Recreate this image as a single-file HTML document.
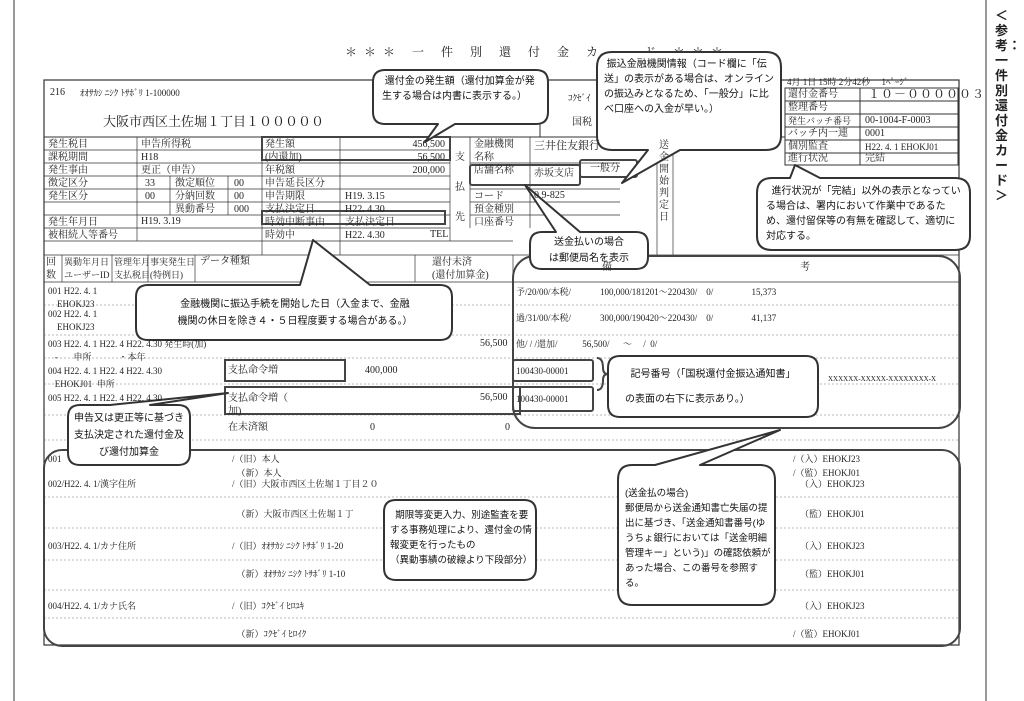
<!DOCTYPE html>
<html><head><meta charset="utf-8"><style>
body{margin:0;width:1024px;height:701px;background:#fff;position:relative;overflow:hidden;font-family:"Liberation Serif","Noto Serif CJK SC","Noto Sans CJK JP",serif;color:#222}
.t{position:absolute;white-space:nowrap;font-size:10px;line-height:12px}
.s{font-size:9px}
.c{font-family:"Liberation Sans","Noto Sans CJK JP",sans-serif;font-size:10px;line-height:15px;color:#111}
svg{position:absolute;left:0;top:0}
</style></head><body>
<div class="t" style="left:345px;top:46px;font-size:12px;letter-spacing:7px">＊＊＊ 一 件 別 還 付 金 カ ー ド ＊＊＊</div>
<svg width="1024" height="701">
<g stroke="#333" fill="none" stroke-width="1">
<line x1="14" y1="0" x2="14" y2="701"/><line x1="986" y1="0" x2="986" y2="701"/>
<rect x="44" y="80" width="915" height="565" stroke-width="1.2"/>
<line x1="44" y1="137" x2="785" y2="137"/>
<rect x="785" y="88" width="173" height="77"/>
<line x1="785" y1="101" x2="958" y2="101"/><line x1="785" y1="114" x2="958" y2="114"/><line x1="785" y1="127" x2="958" y2="127"/><line x1="785" y1="140" x2="958" y2="140"/><line x1="785" y1="153" x2="958" y2="153"/>
<line x1="860" y1="88" x2="860" y2="165"/>
<line x1="540" y1="80" x2="540" y2="137"/>
<g stroke-width="0.7">
<line x1="44" y1="150" x2="450" y2="150"/><line x1="44" y1="163" x2="450" y2="163"/><line x1="44" y1="176" x2="450" y2="176"/><line x1="44" y1="189" x2="450" y2="189"/><line x1="44" y1="202" x2="450" y2="202"/><line x1="44" y1="215" x2="450" y2="215"/><line x1="44" y1="228" x2="450" y2="228"/><line x1="44" y1="241" x2="513" y2="241"/>
<line x1="137" y1="137" x2="137" y2="241"/><line x1="262" y1="137" x2="262" y2="255"/><line x1="340" y1="137" x2="340" y2="255"/>
<line x1="170" y1="176" x2="170" y2="215"/><line x1="228" y1="176" x2="228" y2="215"/><line x1="450" y1="137" x2="450" y2="241"/>
<line x1="470" y1="137" x2="470" y2="228"/><line x1="530" y1="137" x2="530" y2="228"/><line x1="470" y1="163" x2="620" y2="163"/><line x1="470" y1="189" x2="620" y2="189"/><line x1="470" y1="202" x2="620" y2="202"/><line x1="470" y1="215" x2="620" y2="215"/>
<line x1="657" y1="137" x2="657" y2="255"/><line x1="673" y1="137" x2="673" y2="255"/>
<line x1="44" y1="255" x2="959" y2="255"/><line x1="44" y1="282" x2="959" y2="282"/>
<line x1="62" y1="255" x2="62" y2="282"/><line x1="112" y1="255" x2="112" y2="282"/><line x1="148" y1="255" x2="148" y2="282"/><line x1="195" y1="255" x2="195" y2="282"/><line x1="330" y1="255" x2="330" y2="282"/><line x1="415" y1="255" x2="415" y2="282"/><line x1="513" y1="255" x2="513" y2="282"/>
</g>
<g stroke-dasharray="2,2" stroke-width="0.6" stroke="#777">
<line x1="44" y1="305" x2="959" y2="305"/><line x1="44" y1="335" x2="959" y2="335"/><line x1="44" y1="358" x2="959" y2="358"/><line x1="44" y1="384" x2="959" y2="384"/><line x1="44" y1="415" x2="959" y2="415"/><line x1="44" y1="440" x2="959" y2="440"/>
<line x1="44" y1="497" x2="959" y2="497"/><line x1="44" y1="528" x2="959" y2="528"/><line x1="44" y1="560" x2="959" y2="560"/><line x1="44" y1="590" x2="959" y2="590"/><line x1="44" y1="618" x2="959" y2="618"/>
</g>
</g>
<g stroke="#444" fill="none" stroke-width="2">
<rect x="262" y="137" width="188" height="23"/>
<rect x="262" y="211" width="183" height="13"/>
<rect x="470" y="165" width="110" height="20" rx="2"/>
<rect x="580" y="160" width="57" height="17" rx="2"/>
<rect x="225" y="360" width="120" height="21"/>
<rect x="225" y="387" width="295" height="27"/>
<rect x="513" y="360" width="80" height="21" rx="2"/>
<rect x="513" y="387" width="80" height="24" rx="2"/>
<path d="M597 358 q6 0 6 10 q0 6 5 6 q-5 0 -5 6 q0 10 -6 10" />
<rect x="513" y="256" width="447" height="172" rx="22"/>
<rect x="44" y="450" width="916" height="196" rx="18"/>
</g>
<g stroke="#333" fill="#fff" stroke-width="2" stroke-linejoin="round">
<path d="M385 70 H536 Q548 70 548 82 V112 Q548 124 536 124 H455 L425 142 L438 124 H385 Q373 124 373 112 V82 Q373 70 385 70Z"/>
<path d="M612 52 H766 Q781 52 781 67 V136 Q781 150 766 150 H680 L622 183 L648 150 H612 Q597 150 597 136 V67 Q597 52 612 52Z"/>
<path d="M772 178 H790 L795 165 L820 178 H955 Q970 178 970 193 V236 Q970 250 955 250 H772 Q757 250 757 236 V193 Q757 178 772 178Z"/>
<path d="M542 232 H556 L525 185 L580 232 H636 Q648 232 648 244 V257 Q648 269 636 269 H542 Q530 269 530 257 V244 Q530 232 542 232Z"/>
<path d="M148 285 H300 L313 240 L370 285 H440 Q452 285 452 297 V328 Q452 340 440 340 H148 Q136 340 136 328 V297 Q136 285 148 285Z"/>
<path d="M80 405 H110 L228 393 L150 405 H178 Q190 405 190 417 V453 Q190 465 178 465 H80 Q68 465 68 453 V417 Q68 405 80 405Z"/>
<path d="M396 500 H524 Q536 500 536 512 V568 Q536 580 524 580 H396 Q384 580 384 568 V512 Q384 500 396 500Z"/>
<path d="M632 465 H655 L780 430 L700 465 H760 Q775 465 775 480 V590 Q775 605 760 605 H632 Q618 605 618 590 V480 Q618 465 632 465Z"/>
<path d="M620 356 H806 Q818 356 818 368 V405 Q818 417 806 417 H620 Q608 417 608 405 V368 Q608 356 620 356Z"/>
</g>
</svg>
<div class="t" style="left:995px;top:8px;width:14px;font-size:13px;line-height:15px;white-space:normal;font-family:'Liberation Sans','Noto Sans CJK JP',sans-serif;font-weight:bold">＜参考：一件別還付金カード＞</div>
<div class="t" style="left:50px;top:87px">216</div><div class="t s" style="left:80px;top:87px">ｵｵｻｶｼ ﾆｼｸ ﾄｻﾎﾞﾘ 1-100000</div>
<div class="t" style="left:103px;top:114px;font-size:13px;line-height:15px">大阪市西区土佐堀１丁目１０００００</div>
<div class="t s" style="left:568px;top:92px">ｺｸｾﾞｲ</div><div class="t" style="left:572px;top:117px">国税</div>
<div class="t s" style="left:787px;top:76px">4月 1日 15時 2分42秒　 1ﾍﾟｰｼﾞ</div>
<div class="t" style="left:788px;top:89px">還付金番号</div><div class="t" style="left:868px;top:88px;font-size:12px;letter-spacing:1px">１０－０００００３</div>
<div class="t" style="left:788px;top:102px">整理番号</div>
<div class="t s" style="left:788px;top:115px">発生バッチ番号</div><div class="t" style="left:865px;top:115px">00-1004-F-0003</div>
<div class="t" style="left:788px;top:128px">バッチ内一連</div><div class="t" style="left:865px;top:128px">0001</div>
<div class="t" style="left:788px;top:141px">個別監査</div><div class="t s" style="left:865px;top:141px">H22. 4. 1 EHOKJ01</div>
<div class="t" style="left:788px;top:153px">進行状況</div><div class="t" style="left:865px;top:153px">完結</div>
<div class="t" style="left:48px;top:138px;line-height:13px">発生税目<br>課税期間<br>発生事由<br>徴定区分<br>発生区分<br>&nbsp;<br>発生年月日<br>被相続人等番号</div>
<div class="t" style="left:141px;top:138px;line-height:13px">申告所得税<br>H18<br>更正（申告）</div>
<div class="t" style="left:145px;top:177px;line-height:13px">33<br>00</div>
<div class="t" style="left:175px;top:177px;line-height:13px">徴定順位<br>分納回数<br>異動番号</div>
<div class="t" style="left:234px;top:177px;line-height:13px">00<br>00<br>000</div>
<div class="t" style="left:141px;top:216px">H19. 3.19</div>
<div class="t" style="left:265px;top:138px;line-height:13px">発生額<br>(内還加)<br>年税額<br>申告延長区分<br>申告期限<br>支払決定日<br>時効中断事由<br>時効中</div>
<div class="t" style="left:395px;top:138px;line-height:13px;text-align:right;width:50px">456,500<br>56,500<br>200,000</div>
<div class="t" style="left:345px;top:190px;line-height:13px">H19. 3.15<br>H22. 4.30<br>支払決定日<br>H22. 4.30</div>
<div class="t" style="left:430px;top:229px">TEL</div>
<div class="t" style="left:455px;top:143px;line-height:30px;width:10px;white-space:normal">支払先</div>
<div class="t" style="left:474px;top:138px;line-height:13px">金融機関<br>名称<br>店舗名称<br>&nbsp;<br>コード<br>預金種別<br>口座番号</div>
<div class="t" style="left:534px;top:140px;font-size:11px">三井住友銀行</div>
<div class="t" style="left:534px;top:168px">赤坂支店</div>
<div class="t" style="left:534px;top:190px">0 9-825</div><div class="t" style="left:590px;top:163px">一般分</div>
<div class="t" style="left:659px;top:140px;width:12px;white-space:normal;line-height:12px">送金開始判定日</div>
<div class="t" style="left:46px;top:256px;line-height:13px">回<br>数</div>
<div class="t s" style="left:64px;top:256px;line-height:13px">異動年月日<br>ユーザーID</div>
<div class="t s" style="left:114px;top:256px;line-height:13px">管理年月<br>支払税目</div>
<div class="t s" style="left:150px;top:256px;line-height:13px">事実発生日<br>(特例日)</div>
<div class="t" style="left:200px;top:256px">データ種類</div>
<div class="t" style="left:432px;top:256px;line-height:13px">還付未済<br>(還付加算金)</div>
<div class="t" style="left:602px;top:262px">備</div><div class="t" style="left:800px;top:262px">考</div>
<div class="t s" style="left:48px;top:285px;line-height:13px">001 H22. 4. 1<br>&nbsp;&nbsp;&nbsp;&nbsp;EHOKJ23</div>
<div class="t s" style="left:48px;top:308px;line-height:13px">002 H22. 4. 1<br>&nbsp;&nbsp;&nbsp;&nbsp;EHOKJ23</div>
<div class="t s" style="left:48px;top:338px;line-height:13px">003 H22. 4. 1 H22. 4 H22. 4.30 発生時(加)<br>&nbsp;&nbsp;&nbsp;-&nbsp;&nbsp;&nbsp;&nbsp;&nbsp;&nbsp;&nbsp;申所&nbsp;&nbsp;&nbsp;&nbsp;&nbsp;&nbsp;&nbsp;&nbsp;&nbsp;&nbsp;&nbsp;&nbsp;・本年</div>
<div class="t s" style="left:48px;top:365px;line-height:13px">004 H22. 4. 1 H22. 4 H22. 4.30<br>&nbsp;&nbsp;&nbsp;EHOKJ01&nbsp;&nbsp;申所</div>
<div class="t s" style="left:48px;top:392px">005 H22. 4. 1 H22. 4 H22. 4.30</div>
<div class="t" style="left:228px;top:365px">支払命令増</div><div class="t" style="left:365px;top:365px">400,000</div>
<div class="t" style="left:228px;top:392px;line-height:13px">支払命令増（<br>加)</div>
<div class="t" style="left:480px;top:338px">56,500</div><div class="t" style="left:480px;top:392px">56,500</div>
<div class="t" style="left:228px;top:422px">在未済額</div><div class="t" style="left:370px;top:422px">0</div><div class="t" style="left:505px;top:422px">0</div>
<div class="t s" style="left:516px;top:286px">予/20/00/本税/</div><div class="t s" style="left:600px;top:286px">100,000/181201～220430/&nbsp;&nbsp;&nbsp;&nbsp;0/&nbsp;&nbsp;&nbsp;&nbsp;&nbsp;&nbsp;&nbsp;&nbsp;&nbsp;&nbsp;&nbsp;&nbsp;&nbsp;&nbsp;&nbsp;&nbsp;&nbsp;15,373</div>
<div class="t s" style="left:516px;top:312px">過/31/00/本税/</div><div class="t s" style="left:600px;top:312px">300,000/190420～220430/&nbsp;&nbsp;&nbsp;&nbsp;0/&nbsp;&nbsp;&nbsp;&nbsp;&nbsp;&nbsp;&nbsp;&nbsp;&nbsp;&nbsp;&nbsp;&nbsp;&nbsp;&nbsp;&nbsp;&nbsp;&nbsp;41,137</div>
<div class="t s" style="left:516px;top:338px">他/ / /還加/&nbsp;&nbsp;&nbsp;&nbsp;&nbsp;&nbsp;&nbsp;&nbsp;&nbsp;&nbsp;&nbsp;56,500/&nbsp;&nbsp;&nbsp;&nbsp;&nbsp;&nbsp;～&nbsp;&nbsp;&nbsp;&nbsp;&nbsp;/&nbsp;&nbsp;0/</div>
<div class="t s" style="left:516px;top:365px">100430-00001</div><div class="t s" style="left:516px;top:393px">100430-00001</div>
<div class="t" style="left:828px;top:373px;font-size:7px">XXXXXX-XXXXX-XXXXXXXX-X</div>
<div class="t s" style="left:48px;top:452px;line-height:14px">001</div>
<div class="t s" style="left:48px;top:478px">002/H22. 4. 1/漢字住所</div>
<div class="t s" style="left:48px;top:540px">003/H22. 4. 1/カナ住所</div>
<div class="t s" style="left:48px;top:600px">004/H22. 4. 1/カナ氏名</div>
<div class="t s" style="left:232px;top:452px;line-height:14px">/（旧）本人<br>&nbsp;&nbsp;（新）本人</div>
<div class="t s" style="left:232px;top:478px">/（旧）大阪市西区土佐堀１丁目２０</div>
<div class="t s" style="left:232px;top:508px">&nbsp;&nbsp;（新）大阪市西区土佐堀１丁</div>
<div class="t s" style="left:232px;top:540px">/（旧）ｵｵｻｶｼ ﾆｼｸ ﾄｻﾎﾞﾘ 1-20</div>
<div class="t s" style="left:232px;top:568px">&nbsp;&nbsp;（新）ｵｵｻｶｼ ﾆｼｸ ﾄｻﾎﾞﾘ 1-10</div>
<div class="t s" style="left:232px;top:600px">/（旧）ｺｸｾﾞｲ ﾋﾛﾕｷ</div>
<div class="t s" style="left:232px;top:628px">&nbsp;&nbsp;（新）ｺｸｾﾞｲ ﾋﾛｲｸ</div>
<div class="t s" style="left:793px;top:452px;line-height:14px">/（入）EHOKJ23<br>/（監）EHOKJ01</div>
<div class="t s" style="left:800px;top:478px">（入）EHOKJ23</div><div class="t s" style="left:800px;top:508px">（監）EHOKJ01</div>
<div class="t s" style="left:800px;top:540px">（入）EHOKJ23</div><div class="t s" style="left:800px;top:568px">（監）EHOKJ01</div>
<div class="t s" style="left:800px;top:600px">（入）EHOKJ23</div><div class="t s" style="left:793px;top:628px">/（監）EHOKJ01</div>
<div class="t c" style="left:382px;top:74px;white-space:normal;width:160px">&nbsp;還付金の発生額（還付加算金が発生する場合は内書に表示する。）</div>
<div class="t c" style="left:604px;top:57px;white-space:normal;width:170px">&nbsp;振込金融機関情報（コード欄に「伝送」の表示がある場合は、オンラインの振込みとなるため、「一般分」に比べ口座への入金が早い。）</div>
<div class="t c" style="left:766px;top:184px;white-space:normal;width:196px">&nbsp;&nbsp;進行状況が「完結」以外の表示となっている場合は、署内において作業中であるため、還付留保等の有無を確認して、適切に対応する。</div>
<div class="t c" style="left:539px;top:235px;line-height:16px;text-align:center;width:100px">送金払いの場合<br>は郵便局名を表示</div>
<div class="t c" style="left:145px;top:296px;line-height:17px;text-align:center;width:300px">金融機関に振込手続を開始した日（入金まで、金融<br>機関の休日を除き４・５日程度要する場合がある。）</div>
<div class="t c" style="left:74px;top:410px;line-height:17px;text-align:center;width:110px;white-space:normal">申告又は更正等に基づき支払決定された還付金及び還付加算金</div>
<div class="t c" style="left:390px;top:508px;line-height:15px;white-space:normal;width:142px;font-size:9.5px">&nbsp;&nbsp;期限等変更入力、別途監査を要する事務処理により、還付金の情報変更を行ったもの<br>（異動事績の破線より下段部分）</div>
<div class="t c" style="left:625px;top:486px;line-height:15px;white-space:normal;width:146px;font-size:9.5px">(送金払の場合)<br>郵便局から送金通知書亡失届の提出に基づき、「送金通知書番号(ゆうちょ銀行においては「送金明細管理キー」という)」の確認依頼があった場合、この番号を参照する。</div>
<div class="t c" style="left:625px;top:362px;line-height:25px;white-space:normal;width:190px">&nbsp;&nbsp;記号番号（「国税還付金振込通知書」<br>の表面の右下に表示あり。）</div>
</body></html>
